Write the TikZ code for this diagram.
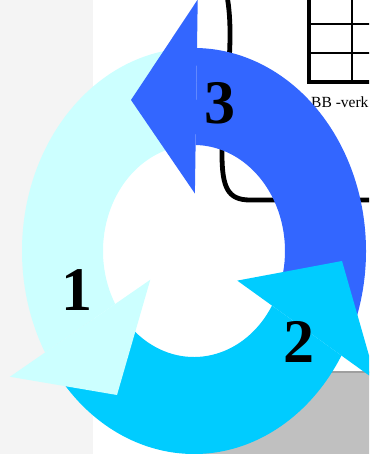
\documentclass[tikz,border=0pt]{standalone}
\usepackage{fontspec}
\setmainfont{Liberation Serif}
\usepackage{xcolor}
\usetikzlibrary{calc}
\definecolor{ringlight}{HTML}{CCFFFF}
\definecolor{ringmid}{HTML}{00CCFF}
\definecolor{ringblue}{HTML}{3366FF}
\definecolor{sheetleft}{HTML}{F4F4F4}
\definecolor{sheetgray}{HTML}{C0C0C0}

\begin{document}
\begin{tikzpicture}[x=1pt,y=1pt,font=\fontsize{62}{62}\selectfont\bfseries]
\newcommand{\drawband}[3]{%
  \fill[#1] ([shift={(#2:172pt and 203pt)}]C)
    arc[start angle=#2, end angle=#3, x radius=172pt, y radius=203pt]
    -- ([shift={(#3:91pt and 106pt)}]C)
    arc[start angle=#3, end angle=#2, x radius=91pt, y radius=106pt] -- cycle;
}
\newcommand{\drawhead}[3]{%
  \coordinate (hin) at ([shift={(#2:91pt and 106pt)}]C);
  \coordinate (hout) at ([shift={(#2:172pt and 203pt)}]C);
  \fill[#1] ($(hin)!-0.5!(hout)$) -- ($(hout)!-0.5!(hin)$) -- #3 -- cycle;
}
\useasboundingbox (0,0) rectangle (369,454);
\clip (0,0) rectangle (369,454);
\fill[white] (0,0) rectangle (369,454);
\fill[sheetleft] (0,0) rectangle (93,454);
\fill[sheetgray] (200,0) rectangle (372,82);
\draw[gray!75,line width=1.2] (200,82) -- (372,82);
\draw[line width=4.8,line cap=round] (227,458) .. controls (236,410) and (222,340) .. (222,300)
  .. controls (222,266) and (228,254) .. (250,254) -- (374,254);
\draw[line width=2] (309,401) -- (374,401) (309,430) -- (374,430) (352,372) -- (352,460);
\draw[line width=3.5] (309,460) -- (309,372) -- (374,372);
\node[anchor=base west,inner sep=0pt,font=\fontsize{15.5}{15.5}\selectfont] (bbtext) at (311,346.5) {BB -verk};
\coordinate (C) at (194,203);
\drawband{ringlight}{90}{210}
\drawband{ringmid}{212}{329}
\drawband{ringblue}{-22}{89}
\drawhead{ringlight}{210}{(117,59)}
\drawhead{ringmid}{-31}{(342,193)}
\drawhead{ringblue}{89}{(131,354)}
\node (one) at (77,164) {1};
\node (two) at (299,112) {2};
\node (three) at (220,351) {3};
\end{tikzpicture}
\end{document}
